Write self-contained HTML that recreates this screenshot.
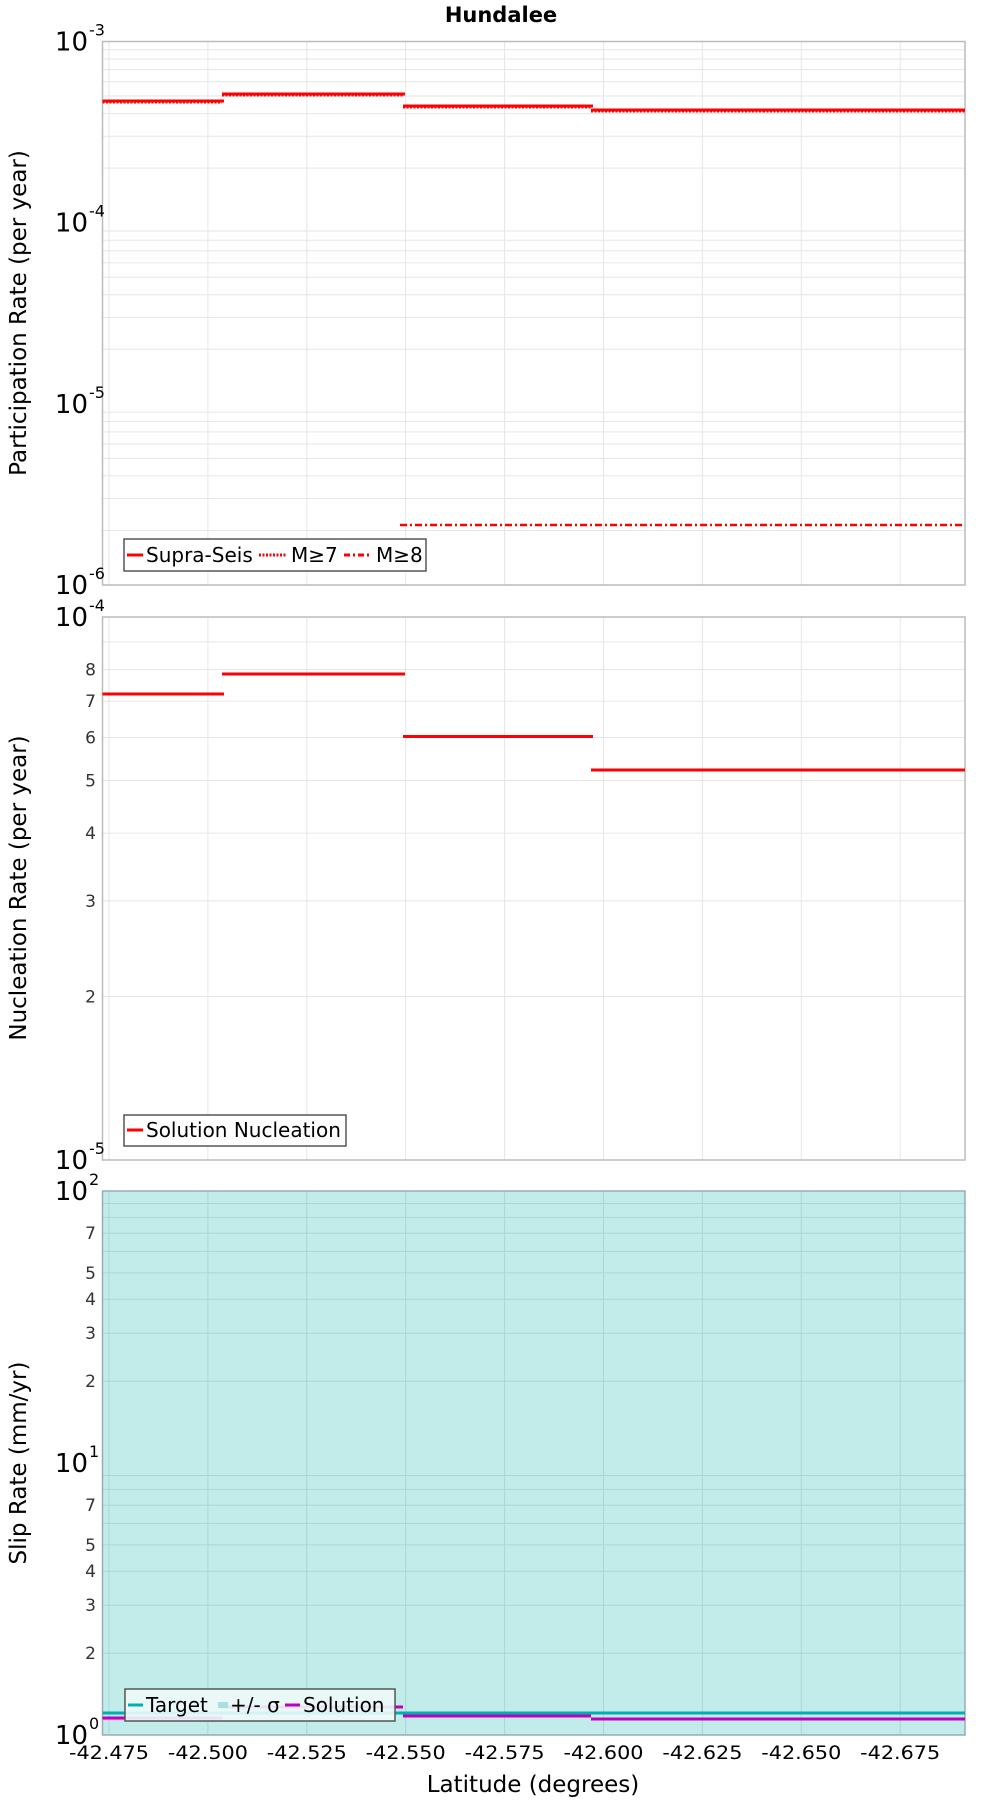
<!DOCTYPE html>
<html><head><meta charset="utf-8"><style>body{margin:0;background:#fff}svg{display:block}</style></head>
<body>
<svg id="s" width="1000" height="1800" xmlns="http://www.w3.org/2000/svg" font-family="DejaVu Sans, Liberation Sans, sans-serif"></svg>
<script>
const s=document.getElementById('s');let h='';
const L=102.5,R=965;
const xv=v=>109+(v-42.475)/0.025*98.9;
function grid(top,bot,dec,teal){
  const per=(bot-top)/dec;const gc=teal?'#a9d6d4':'#e6e6e6';
  if(teal)h+=`<rect x="${L}" y="${top}" width="${R-L}" height="${bot-top}" fill="#c2ecea"/>`;
  for(let d=0;d<dec;d++){for(let m=2;m<=9;m++){const y=bot-per*(d+Math.log10(m));h+=`<line x1="${L}" x2="${R}" y1="${y}" y2="${y}" stroke="${gc}" stroke-width="1"/>`;}}
  for(let i=0;i<9;i++){const x=xv(42.475+i*0.025);h+=`<line x1="${x}" x2="${x}" y1="${top}" y2="${bot}" stroke="${gc}"/>`;}
  h+=`<rect x="${L}" y="${top}" width="${R-L}" height="${bot-top}" fill="none" stroke="${teal?'#9ab':'#bbb'}" stroke-width="1.5"/>`;
}
function big(y,e){h+=`<text x="88" y="${y+9}" font-size="26" text-anchor="end">10</text><text x="89" y="${y-6}" font-size="16">${e}</text>`;}
function minor(top,bot,dec,ms){const per=(bot-top)/dec;for(let d=0;d<dec;d++)for(const m of ms){const y=bot-per*(d+Math.log10(m));h+=`<text x="96" y="${y+6}" font-size="17" fill="#333" text-anchor="end">${m}</text>`;}}
function seg(x1,x2,y,c,w,da,op){h+=`<line x1="${x1}" x2="${x2}" y1="${y}" y2="${y}" stroke="${c}" stroke-width="${w}" ${da?`stroke-dasharray="${da}"`:''} ${op?`opacity="${op}"`:''}/>`;}
const B=[102.5,222,403,591,763,965];
grid(41.5,585,3,false);
const y1=[101,94,106,110,110];
for(let i=0;i<5;i++){seg(B[i],B[i+1]+(i<4?2:0),y1[i],'#f00',3);seg(B[i],B[i+1],y1[i]+1,'#f00',3,'2,1.5');}
seg(400,965,525,'#f00',2.5,'7,3,2,3');
big(41.5,'-3');big(222.7,'-4');big(404,'-5');big(585,'-6');
h+=`<rect x="124" y="539" width="302" height="32" fill="#fff" stroke="#555" stroke-width="1.5"/>`;
seg(127,143,555,'#f00',3);h+=`<text x="146" y="562" font-size="20">Supra-Seis</text>`;
seg(259,286,555,'#f00',3,'2,1.5');h+=`<text x="291" y="562" font-size="20">M≥7</text>`;
seg(344,371,555,'#f00',3,'6,3,2,3');h+=`<text x="376" y="562" font-size="20">M≥8</text>`;
h+=`<text transform="translate(26,313) rotate(-90)" font-size="23" text-anchor="middle">Participation Rate (per year)</text>`;
grid(617,1160,1,false);
const y2=[694,674,736.5,770,770];
for(let i=0;i<5;i++)seg(B[i],B[i+1]+(i<4?2:0),y2[i],'#f00',3);
big(617,'-4');big(1160,'-5');minor(617,1160,1,[2,3,4,5,6,7,8]);
h+=`<rect x="124" y="1115" width="222" height="31" fill="#fff" stroke="#555" stroke-width="1.5"/>`;
seg(127,143,1130,'#f00',3);h+=`<text x="146" y="1137" font-size="20">Solution Nucleation</text>`;
h+=`<text transform="translate(26,888) rotate(-90)" font-size="23" text-anchor="middle">Nucleation Rate (per year)</text>`;
grid(1191,1735,2,true);
big(1191,'2');big(1463,'1');big(1735,'0');minor(1191,1735,2,[2,3,4,5,7]);
seg(103,226,1719,'#e8b0e0',3);
seg(L,R,1713,'#00b0b0',3);
const y3=[1718,1707,1716,1719,1719];
for(let i=0;i<5;i++)seg(B[i],B[i+1],y3[i],'#c000c0',3);
h+=`<rect x="125" y="1689" width="270" height="32" fill="#eefafa" fill-opacity="0.9" stroke="#555" stroke-width="1.5"/>`;
seg(128,143,1705,'#00b0b0',3);h+=`<text x="146" y="1712" font-size="20">Target</text>`;
seg(218,228,1705,'#a8e0e0',6);h+=`<text x="230" y="1712" font-size="20">+/- σ</text>`;
seg(285,300,1705,'#c000c0',3);h+=`<text x="303" y="1712" font-size="20">Solution</text>`;
h+=`<text transform="translate(26,1463) rotate(-90)" font-size="23" text-anchor="middle">Slip Rate (mm/yr)</text>`;
for(let i=0;i<9;i++){const v=42.475+i*0.025;h+=`<text x="${xv(v)}" y="1759" font-size="19" text-anchor="middle" textLength="80" lengthAdjust="spacingAndGlyphs">-${v.toFixed(3)}</text>`;}
h+=`<text x="533" y="1792" font-size="23" text-anchor="middle">Latitude (degrees)</text>`;
h+=`<text x="501" y="22" font-size="21" font-weight="bold" text-anchor="middle">Hundalee</text>`;
s.innerHTML=h;
</script>
</body></html>
